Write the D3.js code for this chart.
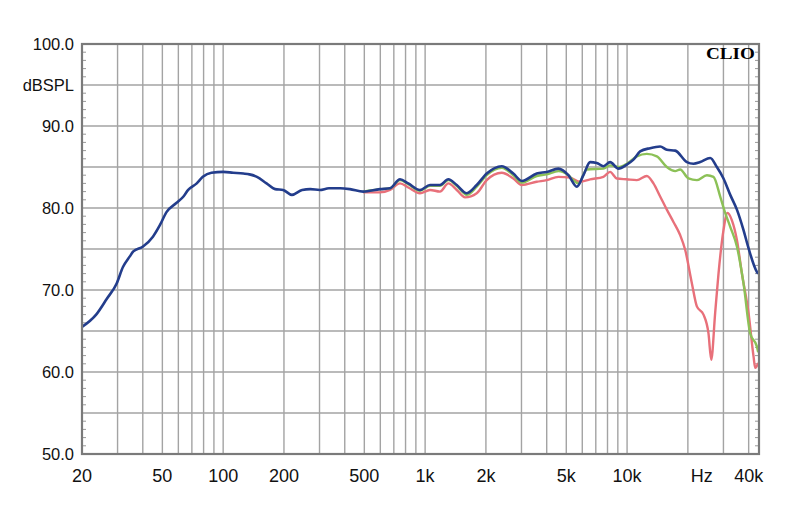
<!DOCTYPE html>
<html>
<head>
<meta charset="utf-8">
<script src="https://cdn.jsdelivr.net/npm/d3@7"></script>
<style>
  html, body { margin: 0; padding: 0; background: #fff; }
  svg { display: block; }
</style>
</head>
<body>
<svg id="chart" width="800" height="515"></svg>
<script>
// ---------- data ----------
const xTickValues = [20, 50, 100, 200, 500, 1000, 2000, 5000, 10000, 40000];
const xTickLabels = ["20", "50", "100", "200", "500", "1k", "2k", "5k", "10k", "40k"];
const xGridValues = [20,30,40,50,60,70,80,90,100,200,300,400,500,600,700,800,900,1000,
                     2000,3000,4000,5000,6000,7000,8000,9000,10000,20000,30000,40000];
const yLabelValues = [100, 90, 80, 70, 60, 50];
const yLabelTexts = ["100.0", "90.0", "80.0", "70.0", "60.0", "50.0"];
const yGridValues = [100, 95, 90, 85, 80, 75, 70, 65, 60, 55, 50];
const unitLabel = "dBSPL";
const hzLabel = "Hz";
const brandLabel = "CLIO";

// blue: on-axis response
const blueFreq = [20, 23.5, 26.5, 29.7, 31.9, 34.5, 35.9, 40.1, 44.9, 48.6, 52.4, 58.6, 63.6, 67.1, 74, 79.3, 87.5, 100,
  112, 126, 135, 147, 164, 181, 198, 219, 246, 270, 301, 334, 380, 424, 494, 597, 670, 751, 825, 943, 1057, 1185,
  1303, 1434, 1607, 1801, 2018, 2395, 2734, 3010, 3570, 4002, 4570, 5122, 5636, 6078, 6562, 7080, 7634, 8242, 9062,
  9970, 10752, 11606, 13008, 14580, 15732, 17302, 19772, 21320, 23020, 25800, 27840, 30020, 32420, 34980, 37720,
  39940, 43960, 44600];
const blueDb = [65.5, 67.0, 68.9, 70.8, 72.8, 74.1, 74.7, 75.3, 76.5, 77.9, 79.5, 80.6, 81.4, 82.2, 83.0, 83.8, 84.3, 84.4,
  84.3, 84.2, 84.1, 83.8, 83.0, 82.3, 82.2, 81.6, 82.2, 82.3, 82.2, 82.4, 82.4, 82.3, 82.0, 82.3, 82.4, 83.5, 83.0, 82.2, 82.8, 82.8,
  83.5, 82.8, 81.8, 82.8, 84.2, 85.1, 84.2, 83.3, 84.2, 84.4, 84.8, 84.0, 82.6, 84.0, 85.6, 85.5, 85.1, 85.6, 84.8,
  85.3, 85.9, 86.9, 87.3, 87.5, 87.1, 87.0, 85.6, 85.4, 85.6, 86.1, 85.0, 83.6, 81.6, 79.8, 77.3,
  75.1, 72.2, 72.0];

// green: off-axis response
const greenFreq = [494, 597, 670, 751, 825, 943, 1057, 1185, 1303, 1434, 1607, 1801, 2018, 2395, 2734, 3010, 3570, 4002,
  4570, 5122, 5422, 5742, 6318, 7634, 8242, 9062, 9970, 11178, 12526, 14040, 15732, 17302, 18314, 20140, 22160, 24840,
  26780, 28920, 30600, 32420, 34980, 37720, 40720, 43960, 44600];
const greenDb = [82.0, 82.3, 82.4, 83.4, 82.9, 82.1, 82.7, 82.7, 83.4, 82.7, 81.6, 82.6, 84.0, 84.9, 84.0, 83.1, 83.9, 84.1,
  84.5, 84.0, 83.4, 83.0, 84.7, 84.8, 85.2, 85.0, 85.4, 86.3, 86.6, 86.3, 85.0, 84.5, 84.7, 83.6, 83.4, 84.0,
  83.8, 81.4, 79.4, 77.7, 75.3, 70.8, 64.7, 63.1, 62.4];

// red: further off-axis response
const redFreq = [494, 533, 597, 670, 751, 825, 943, 1057, 1185, 1303, 1434, 1576, 1801, 2018, 2395, 2734, 3010, 3570,
  4002, 4570, 5222, 5854, 6562, 7634, 8242, 8898, 9970, 11178, 12526, 13506, 14580, 15732, 16966, 18314, 19392,
  20940, 22160, 23900, 25300, 26100, 27300, 28360, 30020, 31420, 33040, 34980, 37040, 39940, 42280, 43120, 44600];
const redDb = [81.9, 81.9, 81.9, 82.2, 83.0, 82.5, 81.8, 82.2, 82.0, 83.0, 82.2, 81.3, 81.8, 83.4, 84.3, 83.6, 82.8, 83.2,
  83.4, 83.8, 83.7, 83.2, 83.5, 83.8, 84.4, 83.6, 83.5, 83.4, 83.9, 83.0, 81.4, 79.8, 78.3, 76.7, 74.9,
  70.8, 68.0, 67.0, 64.7, 61.5, 67.2, 72.0, 77.3, 79.4, 78.5, 76.1, 72.0, 67.2, 61.9, 60.5, 61.1];

// ---------- layout ----------
const pLeft = 82, pRight = 759, pTop = 44, pBottom = 454;
const svg = d3.select("#chart");

const x = d3.scaleLog().domain([20, 45000]).range([pLeft, pRight]);
const y = d3.scaleLinear().domain([50, 100]).range([pBottom, pTop]);

// grid
const gridColor = "#a3a3a3";
svg.append("g").selectAll("line").data(xGridValues).join("line")
  .attr("x1", d => x(d)).attr("x2", d => x(d))
  .attr("y1", pTop).attr("y2", pBottom)
  .attr("stroke", gridColor).attr("stroke-width", 1.4);
svg.append("g").selectAll("line").data(yGridValues).join("line")
  .attr("x1", pLeft).attr("x2", pRight)
  .attr("y1", d => y(d)).attr("y2", d => y(d))
  .attr("stroke", gridColor).attr("stroke-width", 1.4);

// minor ticks every 1 dB (inside, on left and right)
const minor = d3.range(51, 100).filter(v => v % 5 !== 0);
svg.append("g").selectAll("line").data(minor).join("line")
  .attr("x1", pLeft).attr("x2", pLeft + 4)
  .attr("y1", d => y(d)).attr("y2", d => y(d))
  .attr("stroke", "#999").attr("stroke-width", 1);
svg.append("g").selectAll("line").data(minor).join("line")
  .attr("x1", pRight - 4).attr("x2", pRight)
  .attr("y1", d => y(d)).attr("y2", d => y(d))
  .attr("stroke", "#999").attr("stroke-width", 1);

// curves
const line = (fs, vs) => d3.line()
  .x(i => x(fs[i])).y(i => y(vs[i]))
  .curve(d3.curveMonotoneX)(d3.range(fs.length));

const g = svg.append("g");
g.append("path").attr("d", line(redFreq, redDb))
  .attr("fill", "none").attr("stroke", "#e8707a").attr("stroke-width", 2.4).attr("stroke-linejoin", "round");
g.append("path").attr("d", line(greenFreq, greenDb))
  .attr("fill", "none").attr("stroke", "#8cc157").attr("stroke-width", 2.4).attr("stroke-linejoin", "round");
g.append("path").attr("d", line(blueFreq, blueDb))
  .attr("fill", "none").attr("stroke", "#233d8c").attr("stroke-width", 2.6).attr("stroke-linejoin", "round");

// frame
svg.append("rect").attr("x", pLeft).attr("y", pTop)
  .attr("width", pRight - pLeft).attr("height", pBottom - pTop)
  .attr("fill", "none").attr("stroke", "#7a7a7a").attr("stroke-width", 2.2);

// y labels
const font = "'Liberation Sans', Arial, sans-serif";
svg.append("g").selectAll("text").data(yLabelValues).join("text")
  .attr("x", 74).attr("y", d => y(d) + 6)
  .attr("text-anchor", "end")
  .attr("font-family", font).attr("font-size", 16.5).attr("fill", "#111")
  .text((d, i) => yLabelTexts[i]);
svg.append("text").attr("x", 74).attr("y", y(95) + 6)
  .attr("text-anchor", "end")
  .attr("font-family", font).attr("font-size", 16.5).attr("fill", "#111")
  .text(unitLabel);

// x labels
svg.append("g").selectAll("text").data(xTickValues).join("text")
  .attr("x", d => x(d)).attr("y", 482)
  .attr("text-anchor", "middle")
  .attr("font-family", font).attr("font-size", 18).attr("fill", "#111")
  .text((d, i) => xTickLabels[i]);
svg.append("text").attr("x", x(20000) + 14).attr("y", 482)
  .attr("text-anchor", "middle")
  .attr("font-family", font).attr("font-size", 18).attr("fill", "#111")
  .text(hzLabel);

// brand
svg.append("text").attr("x", 706).attr("y", 58.5)
  .attr("font-family", "'Liberation Serif', 'DejaVu Serif', serif")
  .attr("font-weight", "bold").attr("font-size", 17)
  .attr("textLength", 49).attr("lengthAdjust", "spacingAndGlyphs")
  .attr("fill", "#000")
  .text(brandLabel);
</script>
</body>
</html>
